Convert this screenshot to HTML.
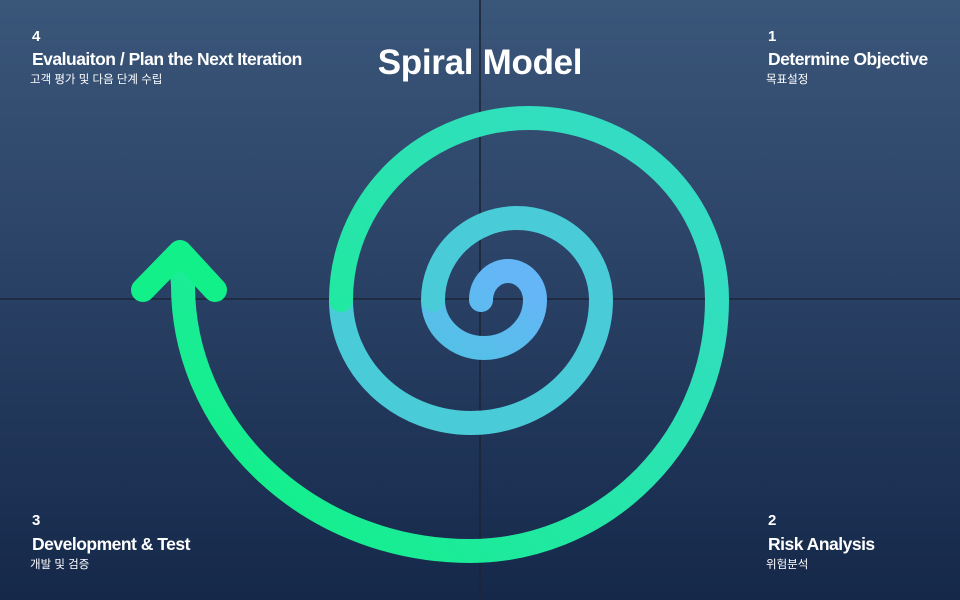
<!DOCTYPE html>
<html><head><meta charset="utf-8"><style>
html,body{margin:0;padding:0}
body{width:960px;height:600px;overflow:hidden;background:linear-gradient(180deg,#3a5679 0%,#2a4266 45%,#15284a 100%);font-family:"Liberation Sans","Noto Sans CJK KR",sans-serif;color:#fff;position:relative}
.t{position:absolute;font-weight:bold;white-space:nowrap}
.n{font-size:15px}
.h{font-size:17.5px;letter-spacing:-0.5px}
.k{font-size:11.5px;font-weight:normal}
</style></head><body>
<svg width="960" height="600" style="position:absolute;left:0;top:0">
<defs>
<linearGradient id="g3" gradientUnits="userSpaceOnUse" x1="640" y1="150" x2="250" y2="520">
<stop offset="0" stop-color="#34dcc4"/><stop offset="0.5" stop-color="#25e6a8"/><stop offset="1" stop-color="#12f08a"/>
</linearGradient>
<linearGradient id="g2" gradientUnits="userSpaceOnUse" x1="500" y1="270" x2="440" y2="360">
<stop offset="0" stop-color="#64b6f6"/><stop offset="1" stop-color="#52c2e4"/>
</linearGradient>
</defs>
<line x1="480" y1="0" x2="480" y2="600" stroke="#1c2536" stroke-width="1.6"/>
<line x1="0" y1="299" x2="960" y2="299" stroke="#1c2536" stroke-width="1.6"/>
<g fill="none" stroke-width="24" stroke-linecap="round" stroke-linejoin="round">
<path d="M481,300 A27 29 0 0 1 508,271 A27 29 0 0 1 535,300 A51 48 0 0 1 484,348 A51 48 0 0 1 433,300" stroke="url(#g2)"/>
<path d="M433,300 A84 82 0 0 1 517,218 A84 82 0 0 1 601,300 A130 123 0 0 1 471,423 A130 123 0 0 1 341,300" stroke="#4acbd8"/>
<path d="M341,300 A188 182 0 0 1 529,118 A188 182 0 0 1 717,300 A247 251 0 0 1 470,551 A287 266 0 0 1 183,285 L181,258" stroke="url(#g3)"/>
<path d="M143,290 L180,252 L215,290" stroke="#12f08a"/>
</g>
</svg>
<div class="t" style="left:0;width:960px;text-align:center;top:43px;font-size:35px;letter-spacing:-0.3px">Spiral Model</div>
<div class="t n" style="left:32px;top:28px">4</div>
<div class="t h" style="left:32px;top:49px">Evaluaiton / Plan the Next Iteration</div>
<div class="t k" style="left:30px;top:71px">고객 평가 및 다음 단계 수립</div>
<div class="t n" style="left:768px;top:28px">1</div>
<div class="t h" style="left:768px;top:49px">Determine Objective</div>
<div class="t k" style="left:766px;top:71px">목표설정</div>
<div class="t n" style="left:32px;top:512px">3</div>
<div class="t h" style="left:32px;top:534px">Development &amp; Test</div>
<div class="t k" style="left:30px;top:556px">개발 및 검증</div>
<div class="t n" style="left:768px;top:512px">2</div>
<div class="t h" style="left:768px;top:534px">Risk Analysis</div>
<div class="t k" style="left:766px;top:556px">위험분석</div>
</body></html>
